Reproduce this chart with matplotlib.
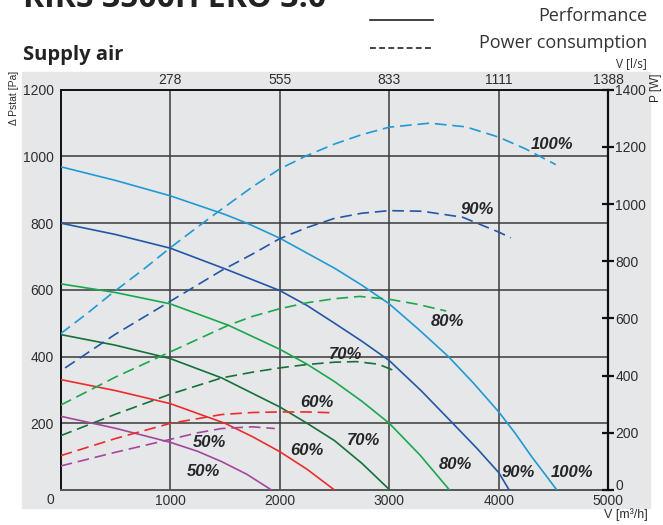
import matplotlib
matplotlib.use("Agg")
import matplotlib.pyplot as plt
from matplotlib.patches import Rectangle

# ------ data section ------
# air flow V [m3/h] and static pressure [Pa] (solid, left axis)
perf_100_x = [0, 500, 1000, 1500, 1700, 2000, 2500, 2750, 3000, 3270, 3540,
              3770, 4000, 4150, 4300, 4420, 4530]
perf_100_y = [969, 928, 882, 826, 800, 755, 665, 614, 558, 481, 400,
              320, 234, 170, 100, 48, 0]
perf_90_x = [0, 500, 1000, 1500, 2000, 2250, 2500, 2750, 3000, 3290, 3580,
             3800, 4000, 4095]
perf_90_y = [800, 766, 725, 663, 598, 553, 500, 446, 388, 298, 200,
             125, 52, 0]
perf_80_x = [0, 500, 1000, 1530, 2000, 2250, 2500, 2750, 3000, 3280, 3550]
perf_80_y = [618, 592, 558, 494, 422, 377, 325, 266, 200, 105, 0]
perf_70_x = [0, 500, 1000, 1470, 2000, 2250, 2500, 2750, 3005]
perf_70_y = [466, 434, 394, 336, 249, 200, 148, 80, 0]
perf_60_x = [0, 500, 1000, 1500, 1750, 2000, 2250, 2500]
perf_60_y = [331, 298, 259, 200, 160, 115, 62, 0]
perf_50_x = [0, 500, 1000, 1250, 1470, 1700, 1925]
perf_50_y = [221, 185, 143, 116, 85, 47, 0]

# power consumption P [W] (dashed, right axis)
pow_100_x = [0, 250, 465, 750, 1000, 1250, 1440, 1750, 2000, 2250, 2500,
             2750, 3000, 3370, 3700, 4000, 4250, 4520]
pow_100_y = [547, 620, 687, 770, 847, 920, 974, 1060, 1123, 1170, 1210,
             1243, 1269, 1283, 1270, 1234, 1192, 1138]
pow_90_x = [40, 500, 1000, 1470, 1750, 2000, 2250, 2500, 2750, 3000, 3300,
            3670, 4000, 4110]
pow_90_y = [427, 545, 660, 768, 825, 879, 918, 950, 968, 977, 975,
            954, 902, 882]
pow_80_x = [0, 500, 1000, 1530, 1750, 2000, 2250, 2500, 2730, 3000, 3250, 3520]
pow_80_y = [297, 395, 483, 576, 607, 634, 655, 669, 677, 667, 650, 626]
pow_70_x = [0, 500, 1000, 1470, 1750, 2000, 2250, 2500, 2700, 2900, 3035]
pow_70_y = [190, 265, 335, 392, 412, 427, 439, 447, 449, 440, 419]
pow_60_x = [0, 500, 1000, 1470, 1750, 2000, 2250, 2490]
pow_60_y = [120, 180, 233, 264, 271, 273, 273, 270]
pow_50_x = [0, 500, 1000, 1250, 1470, 1750, 1955]
pow_50_y = [84, 132, 177, 200, 215, 221, 215]

speed_colors = ["#1e9ad6", "#2157a6", "#19a84c", "#15703a", "#ee2b2b", "#a3479d"]

# curve labels: text, x [m3/h], y [Pa]
label_text = ["100%", "90%", "80%", "70%", "60%", "50%",
              "100%", "90%", "80%", "70%", "60%", "50%"]
label_x = [4483, 3805, 3527, 2603, 2341, 1362,
           4672, 4182, 3607, 2767, 2245, 1301]
label_y = [1035, 841, 506, 407, 261, 143,
           53, 52, 75, 147, 118, 55]

flow_ticks = [1000, 2000, 3000, 4000, 5000]
ls_labels = ["278", "555", "833", "1111", "1388"]
pa_ticks = [200, 400, 600, 800, 1000, 1200]
w_ticks = [0, 200, 400, 600, 800, 1000, 1200, 1400]
w_labels = ["", "200", "400", "600", "800", "1000", "1200", "1400"]


def main():
    W, H = 663, 525
    fig = plt.figure(figsize=(W / 100, H / 100), dpi=100)
    bg = "#e6e7e9"
    txt = "#2e2e2e"
    tick_font = "Liberation Sans"

    fig.patches.append(Rectangle((22 / W, 1 - 508 / H), 628 / W, 436 / H,
                                 transform=fig.transFigure, color=bg, zorder=-10))

    ax = fig.add_axes([60.7 / W, 1 - 490 / H, 547.6 / W, 400.3 / H])
    ax.set_facecolor(bg)
    ax.set_xlim(0, 5000)
    ax.set_ylim(0, 1200)

    ax.set_xticks(flow_ticks)
    ax.set_yticks(pa_ticks)
    ax.grid(True, color="#3a3a3a", lw=1.1)
    ax.set_axisbelow(True)
    ax.tick_params(length=0, labelsize=10, labelcolor=txt)
    ax.tick_params(axis="x", pad=3)
    ax.tick_params(axis="y", pad=5)
    for lab in ax.get_xticklabels() + ax.get_yticklabels():
        lab.set_fontfamily(tick_font)
    for s in ["left", "top"]:
        ax.spines[s].set_color("#111111")
        ax.spines[s].set_linewidth(1.4)
    ax.spines["bottom"].set_color("#555555")
    ax.spines["bottom"].set_linewidth(1.4)
    ax.spines["right"].set_visible(False)

    ax2 = ax.twinx()
    ax2.set_ylim(0, 1400)
    ax2.set_yticks(w_ticks)
    ax2.set_yticklabels(w_labels)
    ax2.tick_params(axis="y", direction="inout", length=8, width=1.6,
                    color="#111111", labelsize=10, labelcolor=txt, pad=1)
    for lab in ax2.get_yticklabels():
        lab.set_fontfamily(tick_font)
    for s in ["left", "top", "bottom"]:
        ax2.spines[s].set_visible(False)
    ax2.spines["right"].set_color("#111111")
    ax2.spines["right"].set_linewidth(1.6)

    ax3 = ax.twiny()
    ax3.set_xlim(0, 5000)
    ax3.set_xticks(flow_ticks)
    ax3.set_xticklabels(ls_labels)
    ax3.tick_params(axis="x", length=0, labelsize=10, labelcolor=txt, pad=2)
    for lab in ax3.get_xticklabels():
        lab.set_fontfamily(tick_font)
    for s in ["left", "right", "bottom", "top"]:
        ax3.spines[s].set_visible(False)

    perf = [(perf_100_x, perf_100_y), (perf_90_x, perf_90_y), (perf_80_x, perf_80_y),
            (perf_70_x, perf_70_y), (perf_60_x, perf_60_y), (perf_50_x, perf_50_y)]
    power = [(pow_100_x, pow_100_y), (pow_90_x, pow_90_y), (pow_80_x, pow_80_y),
             (pow_70_x, pow_70_y), (pow_60_x, pow_60_y), (pow_50_x, pow_50_y)]
    for (px, py), c in zip(perf, speed_colors):
        ax.plot(px, py, color=c, lw=1.2, solid_joinstyle="round", zorder=3)
    for (px, py), c in zip(power, speed_colors):
        ax2.plot(px, py, color=c, lw=1.2, dashes=(7, 3.5), zorder=3)

    for t, x, y in zip(label_text, label_x, label_y):
        ax.text(x, y, t, ha="center", va="center", fontsize=12,
                fontweight="bold", fontstyle="italic", color="#262626",
                family="Liberation Sans", zorder=5)

    # loose texts around the plot
    fig.text(50 / W, 1 - 500 / H, "0", ha="center", va="center", fontsize=10,
             color=txt, family=tick_font)
    fig.text(616 / W, 1 - 486 / H, "0", ha="left", va="center", fontsize=10,
             color=txt, family=tick_font)
    fig.text(14 / W, 1 - 98 / H, "Δ Pstat [Pa]", rotation=90, ha="center",
             va="center", fontsize=7.5, color=txt, family=tick_font)
    fig.text(656 / W, 1 - 88 / H, "P [W]", rotation=90, ha="center",
             va="center", fontsize=8.5, color=txt, family=tick_font)
    fig.text(647 / W, 1 - 64 / H, "V [l/s]", ha="right", va="center",
             fontsize=8.5, color=txt, family="Open Sans")
    fig.text(648 / W, 1 - 515 / H, "V [m³/h]", ha="right", va="center",
             fontsize=9, color=txt, family=tick_font)

    fig.text(23 / W, 1 - 7 / H, "RIRS 3500H EKO 3.0", ha="left", va="baseline",
             fontsize=23, fontweight="bold", color="#222222", family="Open Sans")
    fig.text(23 / W, 1 - 60 / H, "Supply air", ha="left", va="baseline",
             fontsize=14.5, fontweight="bold", color="#222222", family="Open Sans")

    fig.add_artist(plt.Line2D([370 / W, 433 / W], [1 - 20 / H, 1 - 20 / H],
                              color="#222222", lw=1.2))
    fig.add_artist(plt.Line2D([370 / W, 433 / W], [1 - 48 / H, 1 - 48 / H],
                              color="#222222", lw=1.2, dashes=(3.5, 2)))
    fig.text(647 / W, 1 - 16 / H, "Performance", ha="right", va="center",
             fontsize=13, color="#333333", family="Open Sans")
    fig.text(647 / W, 1 - 43 / H, "Power consumption", ha="right", va="center",
             fontsize=13, color="#333333", family="Open Sans")

    fig.savefig("out.png", dpi=100)


if __name__ == "__main__":
    main()
